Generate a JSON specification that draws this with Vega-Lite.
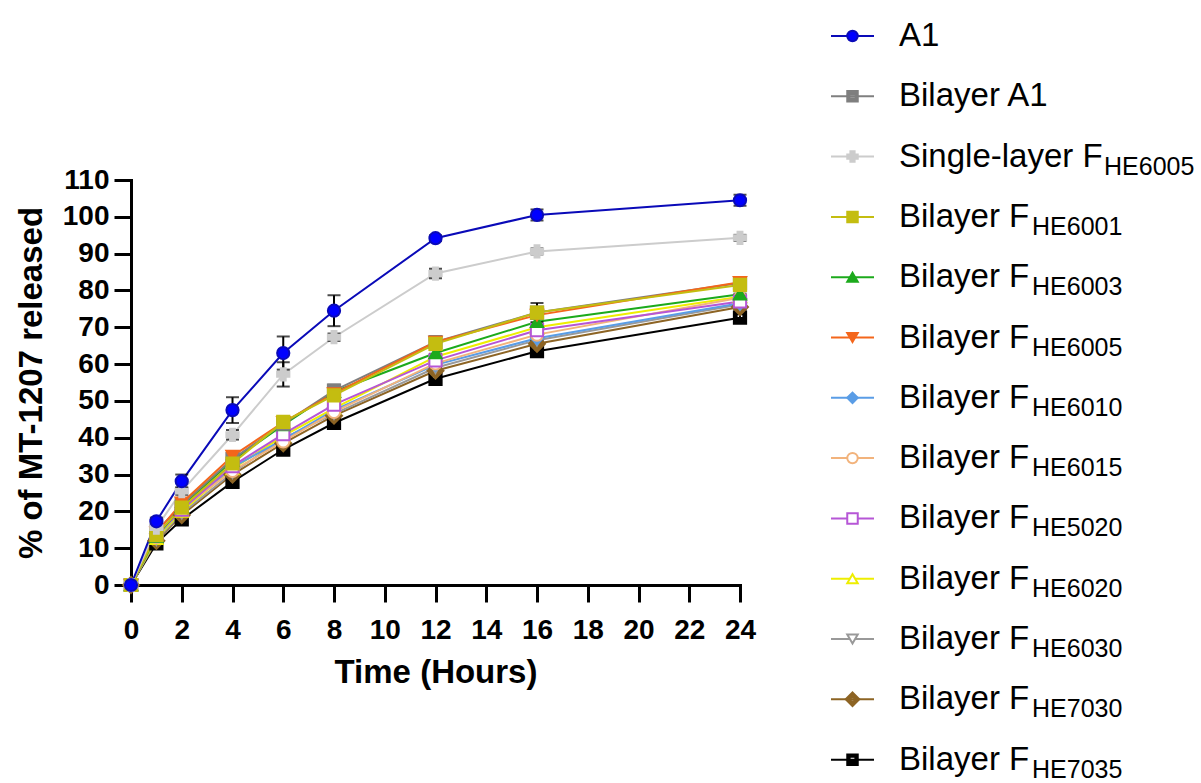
{
  "$schema": "https://vega.github.io/schema/vega-lite/v6.json",
  "padding": {"left": 15, "top": 19, "right": 0, "bottom": 0},
  "autosize": {"type": "pad"},
  "background": "white",
  "spacing": 74,
  "datasets": {
    "release": [
      {"s": "Bilayer FHE7035", "t": 0, "v": 0, "err": 0},
      {"s": "Bilayer FHE7035", "t": 1, "v": 11.3, "err": 0.6},
      {"s": "Bilayer FHE7035", "t": 2, "v": 17.8, "err": 0.8},
      {"s": "Bilayer FHE7035", "t": 4, "v": 28, "err": 1},
      {"s": "Bilayer FHE7035", "t": 6, "v": 36.8, "err": 1},
      {"s": "Bilayer FHE7035", "t": 8, "v": 44, "err": 1},
      {"s": "Bilayer FHE7035", "t": 12, "v": 56, "err": 1},
      {"s": "Bilayer FHE7035", "t": 16, "v": 63.5, "err": 1},
      {"s": "Bilayer FHE7035", "t": 24, "v": 72.6, "err": 1},
      {"s": "Bilayer FHE7030", "t": 0, "v": 0, "err": 0},
      {"s": "Bilayer FHE7030", "t": 1, "v": 12, "err": 0.5},
      {"s": "Bilayer FHE7030", "t": 2, "v": 19, "err": 0.6},
      {"s": "Bilayer FHE7030", "t": 4, "v": 30, "err": 0.8},
      {"s": "Bilayer FHE7030", "t": 6, "v": 38.5, "err": 0.8},
      {"s": "Bilayer FHE7030", "t": 8, "v": 46, "err": 0.8},
      {"s": "Bilayer FHE7030", "t": 12, "v": 58.2, "err": 0.8},
      {"s": "Bilayer FHE7030", "t": 16, "v": 65.5, "err": 0.8},
      {"s": "Bilayer FHE7030", "t": 24, "v": 75.5, "err": 0.8},
      {"s": "Bilayer FHE6030", "t": 0, "v": 0, "err": 0},
      {"s": "Bilayer FHE6030", "t": 1, "v": 12.3, "err": 0.5},
      {"s": "Bilayer FHE6030", "t": 2, "v": 19.5, "err": 0.6},
      {"s": "Bilayer FHE6030", "t": 4, "v": 30.5, "err": 0.8},
      {"s": "Bilayer FHE6030", "t": 6, "v": 39.8, "err": 0.8},
      {"s": "Bilayer FHE6030", "t": 8, "v": 46.5, "err": 0.8},
      {"s": "Bilayer FHE6030", "t": 12, "v": 59, "err": 0.8},
      {"s": "Bilayer FHE6030", "t": 16, "v": 66.5, "err": 0.8},
      {"s": "Bilayer FHE6030", "t": 24, "v": 76.2, "err": 0.8},
      {"s": "Bilayer FHE6020", "t": 0, "v": 0, "err": 0},
      {"s": "Bilayer FHE6020", "t": 1, "v": 12.6, "err": 0.5},
      {"s": "Bilayer FHE6020", "t": 2, "v": 20, "err": 0.6},
      {"s": "Bilayer FHE6020", "t": 4, "v": 31.5, "err": 0.8},
      {"s": "Bilayer FHE6020", "t": 6, "v": 40.5, "err": 0.8},
      {"s": "Bilayer FHE6020", "t": 8, "v": 48, "err": 0.8},
      {"s": "Bilayer FHE6020", "t": 12, "v": 62, "err": 0.8},
      {"s": "Bilayer FHE6020", "t": 16, "v": 70, "err": 0.8},
      {"s": "Bilayer FHE6020", "t": 24, "v": 78.3, "err": 0.8},
      {"s": "Bilayer FHE6010", "t": 0, "v": 0, "err": 0},
      {"s": "Bilayer FHE6010", "t": 1, "v": 13, "err": 0.5},
      {"s": "Bilayer FHE6010", "t": 2, "v": 20.5, "err": 0.6},
      {"s": "Bilayer FHE6010", "t": 4, "v": 32, "err": 0.8},
      {"s": "Bilayer FHE6010", "t": 6, "v": 39.5, "err": 0.8},
      {"s": "Bilayer FHE6010", "t": 8, "v": 47.5, "err": 0.8},
      {"s": "Bilayer FHE6010", "t": 12, "v": 59.8, "err": 0.8},
      {"s": "Bilayer FHE6010", "t": 16, "v": 67, "err": 0.8},
      {"s": "Bilayer FHE6010", "t": 24, "v": 76.5, "err": 0.8},
      {"s": "Bilayer FHE6015", "t": 0, "v": 0, "err": 0},
      {"s": "Bilayer FHE6015", "t": 1, "v": 13, "err": 0.5},
      {"s": "Bilayer FHE6015", "t": 2, "v": 20.8, "err": 0.6},
      {"s": "Bilayer FHE6015", "t": 4, "v": 31, "err": 0.8},
      {"s": "Bilayer FHE6015", "t": 6, "v": 39, "err": 0.8},
      {"s": "Bilayer FHE6015", "t": 8, "v": 47, "err": 0.8},
      {"s": "Bilayer FHE6015", "t": 12, "v": 60.2, "err": 0.8},
      {"s": "Bilayer FHE6015", "t": 16, "v": 68, "err": 0.8},
      {"s": "Bilayer FHE6015", "t": 24, "v": 78, "err": 0.8},
      {"s": "Bilayer FHE5020", "t": 0, "v": 0, "err": 0},
      {"s": "Bilayer FHE5020", "t": 1, "v": 13.5, "err": 0.5},
      {"s": "Bilayer FHE5020", "t": 2, "v": 20.5, "err": 0.6},
      {"s": "Bilayer FHE5020", "t": 4, "v": 32.3, "err": 0.8},
      {"s": "Bilayer FHE5020", "t": 6, "v": 41, "err": 0.8},
      {"s": "Bilayer FHE5020", "t": 8, "v": 49, "err": 0.8},
      {"s": "Bilayer FHE5020", "t": 12, "v": 61, "err": 0.8},
      {"s": "Bilayer FHE5020", "t": 16, "v": 69.2, "err": 0.8},
      {"s": "Bilayer FHE5020", "t": 24, "v": 77, "err": 0.8},
      {"s": "Bilayer FHE6003", "t": 0, "v": 0, "err": 0},
      {"s": "Bilayer FHE6003", "t": 1, "v": 13.2, "err": 0.5},
      {"s": "Bilayer FHE6003", "t": 2, "v": 21.3, "err": 0.6},
      {"s": "Bilayer FHE6003", "t": 4, "v": 33.8, "err": 0.8},
      {"s": "Bilayer FHE6003", "t": 6, "v": 43.5, "err": 0.8},
      {"s": "Bilayer FHE6003", "t": 8, "v": 52.5, "err": 0.8},
      {"s": "Bilayer FHE6003", "t": 12, "v": 63, "err": 0.8},
      {"s": "Bilayer FHE6003", "t": 16, "v": 71.5, "err": 0.8},
      {"s": "Bilayer FHE6003", "t": 24, "v": 79, "err": 0.8},
      {"s": "Bilayer A1", "t": 0, "v": 0, "err": 0},
      {"s": "Bilayer A1", "t": 1, "v": 14.5, "err": 0.8},
      {"s": "Bilayer A1", "t": 2, "v": 21.8, "err": 1},
      {"s": "Bilayer A1", "t": 4, "v": 34.2, "err": 1.2},
      {"s": "Bilayer A1", "t": 6, "v": 43.8, "err": 1.5},
      {"s": "Bilayer A1", "t": 8, "v": 52.8, "err": 1.6},
      {"s": "Bilayer A1", "t": 12, "v": 66, "err": 1.3},
      {"s": "Bilayer A1", "t": 16, "v": 74, "err": 2.6},
      {"s": "Bilayer A1", "t": 24, "v": 82, "err": 1.6},
      {"s": "Bilayer FHE6005", "t": 0, "v": 0, "err": 0},
      {"s": "Bilayer FHE6005", "t": 1, "v": 14.2, "err": 0.5},
      {"s": "Bilayer FHE6005", "t": 2, "v": 22.3, "err": 0.6},
      {"s": "Bilayer FHE6005", "t": 4, "v": 35, "err": 0.8},
      {"s": "Bilayer FHE6005", "t": 6, "v": 44.2, "err": 0.8},
      {"s": "Bilayer FHE6005", "t": 8, "v": 52, "err": 0.8},
      {"s": "Bilayer FHE6005", "t": 12, "v": 66, "err": 0.8},
      {"s": "Bilayer FHE6005", "t": 16, "v": 73.3, "err": 0.8},
      {"s": "Bilayer FHE6005", "t": 24, "v": 82.2, "err": 0.8},
      {"s": "Bilayer FHE6001", "t": 0, "v": 0, "err": 0},
      {"s": "Bilayer FHE6001", "t": 1, "v": 13.6, "err": 0.5},
      {"s": "Bilayer FHE6001", "t": 2, "v": 21, "err": 0.6},
      {"s": "Bilayer FHE6001", "t": 4, "v": 33, "err": 0.8},
      {"s": "Bilayer FHE6001", "t": 6, "v": 44.3, "err": 0.8},
      {"s": "Bilayer FHE6001", "t": 8, "v": 51.5, "err": 0.8},
      {"s": "Bilayer FHE6001", "t": 12, "v": 65.5, "err": 0.8},
      {"s": "Bilayer FHE6001", "t": 16, "v": 74, "err": 0.8},
      {"s": "Bilayer FHE6001", "t": 24, "v": 81.5, "err": 0.8},
      {"s": "Single-layer FHE6005", "t": 0, "v": 0, "err": 0},
      {"s": "Single-layer FHE6005", "t": 1, "v": 15.6, "err": 0.8},
      {"s": "Single-layer FHE6005", "t": 2, "v": 25.5, "err": 1},
      {"s": "Single-layer FHE6005", "t": 4, "v": 40.8, "err": 1.3},
      {"s": "Single-layer FHE6005", "t": 6, "v": 57.2, "err": 3.3},
      {"s": "Single-layer FHE6005", "t": 8, "v": 67.3, "err": 1},
      {"s": "Single-layer FHE6005", "t": 12, "v": 84.6, "err": 1.3},
      {"s": "Single-layer FHE6005", "t": 16, "v": 90.6, "err": 0.8},
      {"s": "Single-layer FHE6005", "t": 24, "v": 94.3, "err": 0.8},
      {"s": "A1", "t": 0, "v": 0, "err": 0},
      {"s": "A1", "t": 1, "v": 17.3, "err": 1},
      {"s": "A1", "t": 2, "v": 28.2, "err": 1.8},
      {"s": "A1", "t": 4, "v": 47.5, "err": 3.5},
      {"s": "A1", "t": 6, "v": 63, "err": 4.5},
      {"s": "A1", "t": 8, "v": 74.5, "err": 4.2},
      {"s": "A1", "t": 12, "v": 94.2, "err": 0.8},
      {"s": "A1", "t": 16, "v": 100.5, "err": 1.5},
      {"s": "A1", "t": 24, "v": 104.5, "err": 1.5}
    ],
    "legend": [
      {"row": 0, "s": "A1", "label": "A1", "sub": ""},
      {"row": 1, "s": "Bilayer A1", "label": "Bilayer A1", "sub": ""},
      {"row": 2, "s": "Single-layer FHE6005", "label": "Single-layer F", "sub": "HE6005"},
      {"row": 3, "s": "Bilayer FHE6001", "label": "Bilayer F", "sub": "HE6001"},
      {"row": 4, "s": "Bilayer FHE6003", "label": "Bilayer F", "sub": "HE6003"},
      {"row": 5, "s": "Bilayer FHE6005", "label": "Bilayer F", "sub": "HE6005"},
      {"row": 6, "s": "Bilayer FHE6010", "label": "Bilayer F", "sub": "HE6010"},
      {"row": 7, "s": "Bilayer FHE6015", "label": "Bilayer F", "sub": "HE6015"},
      {"row": 8, "s": "Bilayer FHE5020", "label": "Bilayer F", "sub": "HE5020"},
      {"row": 9, "s": "Bilayer FHE6020", "label": "Bilayer F", "sub": "HE6020"},
      {"row": 10, "s": "Bilayer FHE6030", "label": "Bilayer F", "sub": "HE6030"},
      {"row": 11, "s": "Bilayer FHE7030", "label": "Bilayer F", "sub": "HE7030"},
      {"row": 12, "s": "Bilayer FHE7035", "label": "Bilayer F", "sub": "HE7035"}
    ]
  },
  "hconcat": [
    {
      "width": 609,
      "height": 405,
      "data": {"name": "release"},
      "encoding": {
        "x": {"field": "t", "type": "quantitative", "scale": {"domain": [0, 24], "nice": false, "zero": false},
              "axis": {"values": [0, 2, 4, 6, 8, 10, 12, 14, 16, 18, 20, 22, 24], "title": "Time (Hours)", "labelPadding": 14, "titlePadding": 12}},
        "y": {"field": "v", "type": "quantitative", "scale": {"domain": [0, 110], "nice": false},
              "axis": {"values": [0, 10, 20, 30, 40, 50, 60, 70, 80, 90, 100, 110], "title": "% of MT-1207 released", "labelPadding": 5, "titlePadding": 14}}
      },
      "layer": [
        {
          "mark": {"type": "line", "strokeWidth": 2},
          "encoding": {
            "stroke": {"field": "s", "type": "nominal", "legend": null,
              "scale": {"domain": ["A1", "Bilayer A1", "Single-layer FHE6005", "Bilayer FHE6001", "Bilayer FHE6003", "Bilayer FHE6005", "Bilayer FHE6010", "Bilayer FHE6015", "Bilayer FHE5020", "Bilayer FHE6020", "Bilayer FHE6030", "Bilayer FHE7030", "Bilayer FHE7035"],
                        "range": ["#0a0ab8", "#7f7f7f", "#cccccc", "#c4bd10", "#1caa1c", "#f4661b", "#5a9de6", "#f2b37c", "#b656d6", "#eeee00", "#999999", "#8d6424", "#000000"]}}
          }
        },
        {
          "transform": [{"filter": "datum.err > 0"}],
          "mark": {"type": "errorbar", "color": "black", "thickness": 2, "ticks": {"size": 13, "thickness": 2, "color": "black"}},
          "encoding": {"yError": {"field": "err"}}
        },
        {
          "mark": {"type": "point", "opacity": 1, "strokeWidth": 2, "size": 150},
          "encoding": {
            "shape": {"field": "s", "type": "nominal", "legend": null,
              "scale": {"domain": ["A1", "Bilayer A1", "Single-layer FHE6005", "Bilayer FHE6001", "Bilayer FHE6003", "Bilayer FHE6005", "Bilayer FHE6010", "Bilayer FHE6015", "Bilayer FHE5020", "Bilayer FHE6020", "Bilayer FHE6030", "Bilayer FHE7030", "Bilayer FHE7035"],
                        "range": ["circle", "M-1,-1H1V1H-1Z M-0.6,-0.35V0.35H0.6V-0.35Z", "cross", "square", "triangle-up", "triangle-down", "diamond", "circle", "square", "triangle-up", "triangle-down", "M0,-1.3L1.3,0L0,1.3L-1.3,0Z M-0.35,-0.35V0.35H0.35V-0.35Z", "M-1,-1H1V1H-1Z M-0.55,-0.55V0.05H0.55V-0.55Z"]}},
            "fill": {"field": "s", "type": "nominal", "legend": null,
              "scale": {"domain": ["A1", "Bilayer A1", "Single-layer FHE6005", "Bilayer FHE6001", "Bilayer FHE6003", "Bilayer FHE6005", "Bilayer FHE6010", "Bilayer FHE6015", "Bilayer FHE5020", "Bilayer FHE6020", "Bilayer FHE6030", "Bilayer FHE7030", "Bilayer FHE7035"],
                        "range": ["#0000ff", "#7f7f7f", "#cccccc", "#c4bd10", "#1caa1c", "#f4661b", "#5a9de6", "#ffffff", "#ffffff", "#ffffff", "#ffffff", "#8d6424", "#000000"]}},
            "stroke": {"field": "s", "type": "nominal", "legend": null}
          }
        }
      ]
    },
    {
      "width": 369,
      "height": 405,
      "data": {"name": "legend"},
      "encoding": {
        "y": {"field": "row", "type": "quantitative", "scale": {"domain": [2.388, 9.104], "reverse": true, "nice": false, "zero": false}, "axis": null}
      },
      "layer": [
        {
          "mark": {"type": "rule", "strokeWidth": 2},
          "encoding": {
            "x": {"datum": 0, "type": "quantitative", "scale": {"domain": [0, 369], "nice": false, "zero": false}, "axis": null},
            "x2": {"datum": 43},
            "stroke": {"field": "s", "type": "nominal", "legend": null,
              "scale": {"domain": ["A1", "Bilayer A1", "Single-layer FHE6005", "Bilayer FHE6001", "Bilayer FHE6003", "Bilayer FHE6005", "Bilayer FHE6010", "Bilayer FHE6015", "Bilayer FHE5020", "Bilayer FHE6020", "Bilayer FHE6030", "Bilayer FHE7030", "Bilayer FHE7035"],
                        "range": ["#0a0ab8", "#7f7f7f", "#cccccc", "#c4bd10", "#1caa1c", "#f4661b", "#5a9de6", "#f2b37c", "#b656d6", "#eeee00", "#999999", "#8d6424", "#000000"]}}
          }
        },
        {
          "mark": {"type": "point", "opacity": 1, "strokeWidth": 2, "size": 110},
          "encoding": {
            "x": {"datum": 21.5, "type": "quantitative"},
            "shape": {"field": "s", "type": "nominal", "legend": null,
              "scale": {"domain": ["A1", "Bilayer A1", "Single-layer FHE6005", "Bilayer FHE6001", "Bilayer FHE6003", "Bilayer FHE6005", "Bilayer FHE6010", "Bilayer FHE6015", "Bilayer FHE5020", "Bilayer FHE6020", "Bilayer FHE6030", "Bilayer FHE7030", "Bilayer FHE7035"],
                        "range": ["circle", "M-1,-1H1V1H-1Z M-0.6,-0.35V0.35H0.6V-0.35Z", "cross", "square", "triangle-up", "triangle-down", "diamond", "circle", "square", "triangle-up", "triangle-down", "M0,-1.3L1.3,0L0,1.3L-1.3,0Z M-0.35,-0.35V0.35H0.35V-0.35Z", "M-1,-1H1V1H-1Z M-0.55,-0.55V0.05H0.55V-0.55Z"]}},
            "fill": {"field": "s", "type": "nominal", "legend": null,
              "scale": {"domain": ["A1", "Bilayer A1", "Single-layer FHE6005", "Bilayer FHE6001", "Bilayer FHE6003", "Bilayer FHE6005", "Bilayer FHE6010", "Bilayer FHE6015", "Bilayer FHE5020", "Bilayer FHE6020", "Bilayer FHE6030", "Bilayer FHE7030", "Bilayer FHE7035"],
                        "range": ["#0000ff", "#7f7f7f", "#cccccc", "#c4bd10", "#1caa1c", "#f4661b", "#5a9de6", "#ffffff", "#ffffff", "#ffffff", "#ffffff", "#8d6424", "#000000"]}},
            "stroke": {"field": "s", "type": "nominal", "legend": null}
          }
        },
        {
          "mark": {"type": "text", "align": "left", "baseline": "alphabetic", "dy": 10, "fontSize": 33, "font": "Liberation Sans", "color": "black"},
          "encoding": {
            "x": {"datum": 68, "type": "quantitative"},
            "text": {"field": "label"}
          }
        },
        {
          "transform": [{"filter": "datum.label == 'Bilayer F'"}],
          "mark": {"type": "text", "align": "left", "baseline": "alphabetic", "dy": 18, "fontSize": 25, "font": "Liberation Sans", "color": "black"},
          "encoding": {
            "x": {"datum": 201, "type": "quantitative"},
            "text": {"field": "sub"}
          }
        },
        {
          "transform": [{"filter": "datum.label == 'Single-layer F'"}],
          "mark": {"type": "text", "align": "left", "baseline": "alphabetic", "dy": 18, "fontSize": 25, "font": "Liberation Sans", "color": "black"},
          "encoding": {
            "x": {"datum": 273, "type": "quantitative"},
            "text": {"field": "sub"}
          }
        }
      ]
    }
  ],
  "config": {
    "view": {"stroke": null},
    "font": "Liberation Sans",
    "axis": {
      "domainColor": "black", "domainWidth": 3, "domainCap": "square",
      "tickColor": "black", "tickWidth": 3, "tickSize": 17,
      "labelFont": "Liberation Sans", "labelFontSize": 28, "labelFontWeight": "bold", "labelColor": "black",
      "titleFont": "Liberation Sans", "titleFontSize": 33, "titleFontWeight": "bold", "titleColor": "black",
      "grid": false, "labelFlush": false, "labelOverlap": false, "labelBound": false
    }
  }
}
